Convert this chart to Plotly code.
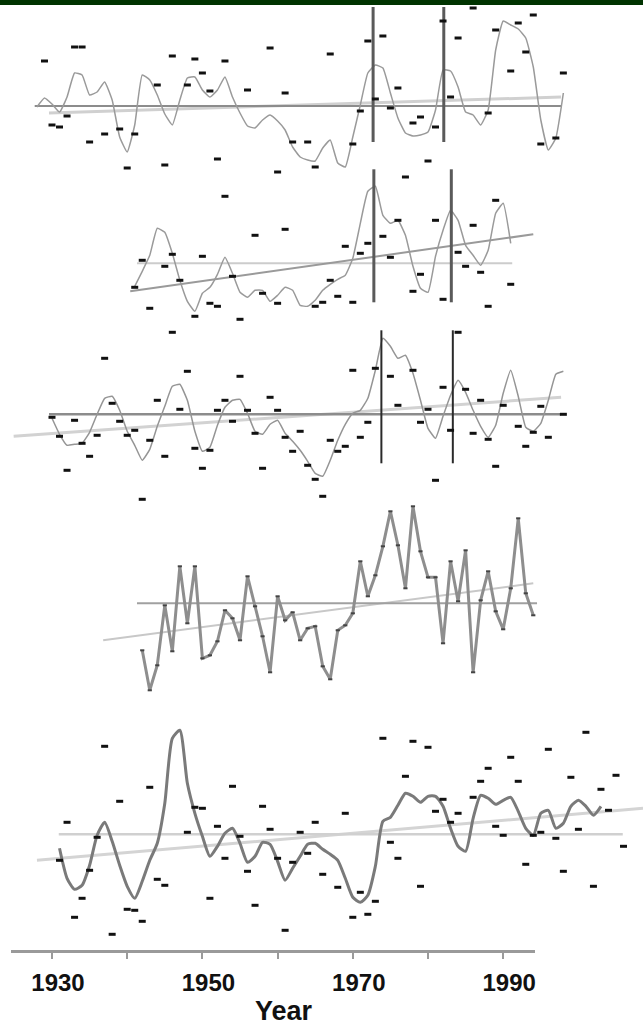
import plotly.graph_objects as go

# ---------------- data (anomaly units, one value per year) ----------------
p1_line_start = 1928
p1_line = [-0.1, 0.8, 0.2, -0.6, 0.9, 3.3, 3.1, 1.1, 1.4, 2.4, 0.6, -3.1, -4.6, -1.9, 3.1, 2.6, 1.1, -0.8,
           -1.9, 0.6, 2.8, 2.9, 1.6, 0.9, 1.6, 2.9, 0.9, -0.7, -2.0, -2.2, -1.4, -0.9, -1.5, -2.4, -4.1, -5.1,
           -5.4, -5.5, -4.2, -3.4, -5.7, -6.1, -3.1, 0.1, 3.3, 4.1, 3.8, 1.3, -1.2, -2.7, -3.0, -2.9, -2.6,
           -0.4, 3.6, 3.5, 1.9, -0.6, -0.9, -1.9, -0.4, 5.6, 8.5, 8.1, 7.7, 6.8, 3.9, -1.4, -4.4, -3.2, 1.3]
p1_dot_years = [1929, 1930, 1931, 1932, 1933, 1934, 1935, 1937, 1939, 1940, 1941, 1944, 1945, 1946, 1948, 1949,
                1950, 1951, 1952, 1953, 1956, 1959, 1960, 1961, 1962, 1964, 1965, 1967, 1970, 1971, 1972, 1973,
                1974, 1975, 1976, 1977, 1978, 1979, 1980, 1981, 1982, 1983, 1984, 1986, 1988, 1989, 1991, 1992,
                1993, 1994, 1995, 1997, 1998]
p1_dot_vals = [4.5, -1.9, -2.1, -1.0, 5.9, 5.9, -3.6, -2.8, -2.3, -6.2, -2.8, 2.1, -5.9, 5.0, 2.1, 4.7,
               3.3, 1.5, -5.3, 4.5, 1.6, 5.8, -6.6, 1.3, -3.6, -3.6, -6.1, 5.2, -3.8, -0.5, 6.5, 0.7,
               7.0, -0.2, 1.8, -7.1, -1.7, -1.1, -5.5, -2.1, 8.5, 0.9, 6.8, 9.8, -0.7, 7.6, 3.5, 8.3,
               5.4, 9.1, -3.8, -3.2, 3.3]
p1_mean_years = [1927.7, 1997.7]
p1_trend_years = [1929.6, 1997.7]
p1_trend_vals = [-0.7, 0.9]
p1_event_years = [1972.7, 1982.1]
p1_event_span = [-3.6, 9.9]

p2_line_start = 1941
p2_line = [-2.3, -0.8, 0.8, 3.5, 3.1, 1.0, -1.7, -3.8, -4.8, -3.0, -2.4, -1.1, 0.6, -1.0, -2.9, -3.4, -2.7,
           -2.7, -3.8, -3.2, -2.4, -2.7, -4.2, -4.3, -3.7, -2.7, -2.1, -1.6, -1.2, 0.5, 4.0, 7.2, 7.7, 4.8,
           4.0, 4.3, 2.8, -0.3, -2.5, -2.9, 0.7, 3.3, 5.3, 4.3, 1.8, 0.8, -0.2, 1.3, 5.0, 6.0, 2.0]
p2_dot_years = [1941, 1942, 1943, 1945, 1946, 1947, 1949, 1950, 1951, 1952, 1953, 1954, 1955, 1957, 1958,
                1960, 1961, 1965, 1966, 1967, 1968, 1969, 1970, 1971, 1972, 1974, 1975, 1976, 1978, 1979,
                1981, 1982, 1984, 1985, 1986, 1987, 1988, 1989, 1991]
p2_dot_vals = [-2.4, 0.3, -4.5, -0.3, 0.9, -1.7, -5.3, 0.7, -4.0, -4.3, 6.7, -1.3, -5.6, 2.8, -3.0,
               -4.0, 3.4, -4.3, -3.9, -1.7, -3.3, 1.7, -3.9, 1.0, 2.0, 2.7, 0.6, 4.3, -2.8, -1.1,
               4.3, -3.6, 1.1, -0.3, 3.8, -0.9, -4.3, 6.3, -2.1]
p2_mean_years = [1941.3, 1991.2]
p2_trend_years = [1940.4, 1994.0]
p2_trend_vals = [-2.8, 2.9]
p2_event_years = [1972.8, 1983.1]
p2_event_span = [-3.9, 9.4]

p3_line_start = 1930
p3_line = [-0.4, -2.0, -3.1, -3.0, -2.9, -1.8, 0.0, 1.6, 1.8, 0.4, -1.7, -3.1, -4.6, -3.5, -1.2, 0.8, 2.8,
           3.0, 1.4, -1.7, -3.7, -3.3, -1.1, 0.7, 1.4, 1.5, 0.1, -1.7, -2.0, -1.0, -0.6, -1.9, -2.7, -3.6,
           -4.7, -5.9, -6.2, -4.6, -2.6, -1.0, 0.1, 0.4, 1.6, 4.4, 7.6, 6.8, 5.6, 5.9, 4.1, 1.4, -1.4, -2.4,
           -0.2, 1.9, 3.4, 2.2, 0.4, -1.2, -2.3, -1.1, 2.1, 4.4, 1.8, -1.3, -1.7, -0.9, 1.4, 4.0, 4.3]
p3_dot_years = [1930, 1931, 1932, 1933, 1934, 1935, 1936, 1937, 1938, 1939, 1940, 1941, 1942, 1943, 1944,
                1945, 1946, 1947, 1948, 1949, 1950, 1951, 1952, 1953, 1954, 1955, 1956, 1957, 1958, 1959,
                1960, 1961, 1962, 1963, 1964, 1965, 1966, 1967, 1968, 1969, 1970, 1971, 1972, 1973, 1975,
                1976, 1978, 1979, 1980, 1981, 1982, 1983, 1984, 1985, 1986, 1987, 1988, 1989, 1990, 1992,
                1993, 1994, 1995, 1996, 1998]
p3_dot_vals = [-0.3, -2.2, -5.6, -0.6, -2.9, -4.2, -2.1, 5.6, 1.1, -0.7, -2.1, -1.6, -8.5, -2.6, 1.4,
               -4.2, 8.2, 0.5, 4.3, -3.4, -5.4, -3.6, 0.4, 1.4, -0.7, 3.8, 0.4, -1.9, -5.4, 1.7,
               0.4, -2.3, -3.7, -1.7, -5.1, -6.5, -8.2, -2.6, -3.7, -3.2, 4.4, -2.3, -0.8, 4.6, 3.8,
               0.9, 4.4, -0.8, 0.5, -6.6, 2.7, -1.6, 8.2, 2.5, -1.9, 1.4, -2.5, -5.2, 0.9, -1.2,
               -3.2, -1.8, 0.8, -2.3, 0.0]
p3_mean_years = [1929.6, 1997.7]
p3_trend_years = [1924.9, 1997.7]
p3_trend_vals = [-2.2, 1.7]
p3_event_years = [1973.8, 1983.3]
p3_event_span = [-4.9, 8.4]

p4_line_start = 1942
p4_line = [-4.7, -8.7, -6.2, -0.2, -4.8, 3.7, -2.0, 3.7, -5.5, -5.2, -3.8, -0.7, -1.5, -3.7, 2.7, -0.3,
           -3.3, -6.9, 0.7, -1.7, -0.9, -3.7, -2.5, -2.3, -6.3, -7.6, -2.7, -2.2, -1.0, 4.2, 0.7, 2.8,
           5.7, 9.2, 5.8, 1.5, 9.7, 5.2, 2.6, 2.6, -4.0, 4.2, 0.2, 5.3, -6.9, 0.3, 3.2, -0.8, -2.6, 1.5,
           8.5, 1.0, -1.2]
p4_mean_years = [1941.3, 1994.5]
p4_trend_years = [1936.8, 1994.0]
p4_trend_vals = [-3.7, 2.0]

p5_line_start = 1931
p5_line = [-1.4, -4.4, -5.5, -5.1, -3.1, -0.1, 1.2, -0.7, -3.1, -5.2, -6.4, -4.7, -2.6, -0.9, 3.1, 9.6,
           10.4, 5.1, 2.1, -0.2, -2.2, -1.2, 0.1, 0.6, -0.9, -2.8, -2.2, -0.8, -1.0, -2.7, -4.6, -3.4,
           -2.2, -1.0, -0.9, -1.5, -2.0, -2.6, -4.4, -6.3, -6.8, -6.1, -3.2, 1.3, 1.7, 2.9, 4.1, 3.8, 3.2,
           3.8, 3.8, 2.8, 0.6, -1.2, -1.7, 1.6, 3.9, 3.6, 3.0, 3.4, 3.7, 2.3, 0.6, -0.1, 2.1, 2.4, 0.6,
           1.1, 2.8, 3.4, 2.8, 1.9, 2.8]
p5_dot_years = [1931, 1932, 1933, 1934, 1935, 1936, 1937, 1938, 1939, 1940, 1941, 1942, 1943, 1944, 1945,
                1948, 1949, 1950, 1951, 1952, 1953, 1954, 1955, 1956, 1957, 1958, 1959, 1960, 1961, 1962,
                1963, 1964, 1965, 1966, 1968, 1969, 1970, 1971, 1972, 1973, 1974, 1975, 1976, 1977, 1978,
                1979, 1980, 1981, 1982, 1983, 1984, 1986, 1987, 1988, 1989, 1990, 1991, 1992, 1993, 1994,
                1995, 1996, 1997, 1998, 1999, 2000, 2001, 2002, 2003, 2004, 2005, 2006]
p5_dot_vals = [-2.6, 1.2, -8.3, -6.4, -3.6, -0.3, 8.8, -10.0, 3.3, -7.5, -7.6, -8.7, 4.7, -4.5, -5.1,
               0.2, 2.7, 2.6, -6.4, 0.8, -2.4, 4.8, -0.2, -3.7, -7.1, 2.8, 0.5, -2.4, -9.6, -2.8,
               0.2, -1.9, 1.2, -4.0, -5.3, 2.1, -8.3, -5.8, -8.0, -6.7, 9.6, -0.8, -2.4, 5.8, 9.3,
               -5.2, 8.7, 2.3, 3.5, 1.2, 2.1, 3.7, 5.3, 6.6, 0.8, -0.1, 7.7, 5.3, -3.0, -0.1,
               0.2, 8.5, -0.4, -3.7, 5.7, 0.5, 10.2, -5.2, 4.5, 2.4, 5.9, -1.2]
p5_mean_years = [1930.9, 2005.9]
p5_trend_years = [1928.0, 2008.6]
p5_trend_vals = [-2.6, 2.6]

tick_years = [1930, 1940, 1950, 1960, 1970, 1980, 1990]
tick_labels = ["1930", "", "1950", "", "1970", "", "1990"]
x_title = "Year"

# ---------------- layout geometry ----------------
W, H = 643, 1028
YEAR0, YEAR0_PX, PX_PER_YEAR = 1930, 52.0, 7.52
PX_PER_UNIT = 10.0
BASELINES = [106.0, 263.3, 414.3, 603.3, 834.3]   # pixel row of each panel's zero line
AXIS_PX = (11.0, 535.0)
AXIS_ROW = 951.0


def px_to_year(px):
    return YEAR0 + (px - YEAR0_PX) / PX_PER_YEAR


def years_from(start, values):
    return list(range(start, start + len(values)))


fig = go.Figure()


def hline(years, yref, color, width):
    fig.add_trace(go.Scatter(x=years, y=[0, 0], mode="lines", yaxis=yref,
                             line=dict(color=color, width=width), hoverinfo="skip"))


def trend(years, vals, yref, color, width):
    fig.add_trace(go.Scatter(x=years, y=vals, mode="lines", yaxis=yref,
                             line=dict(color=color, width=width), hoverinfo="skip"))


def events(years, span, yref, color, width):
    xs, ys = [], []
    for yr in years:
        xs += [yr, yr, None]
        ys += [span[0], span[1], None]
    fig.add_trace(go.Scatter(x=xs, y=ys, mode="lines", yaxis=yref,
                             line=dict(color=color, width=width), hoverinfo="skip"))


def curve(start, vals, yref, color, width, smooth=0.5):
    fig.add_trace(go.Scatter(x=years_from(start, vals), y=vals, mode="lines", yaxis=yref,
                             line=dict(color=color, width=width, shape="spline", smoothing=smooth)))


def dots(years, vals, yref):
    fig.add_trace(go.Scatter(x=years, y=vals, mode="markers", yaxis=yref,
                             marker=dict(symbol="line-ew", size=5,
                                         line=dict(color="#111111", width=3))))


# panel 1
trend(p1_trend_years, p1_trend_vals, "y", "#d0d0d0", 3)
hline(p1_mean_years, "y", "#8c8c8c", 2)
curve(p1_line_start, p1_line, "y", "#9a9a9a", 1.5, 0.4)
events(p1_event_years, p1_event_span, "y", "#5a5a5a", 3)
dots(p1_dot_years, p1_dot_vals, "y")

# panel 2
hline(p2_mean_years, "y2", "#cccccc", 2)
trend(p2_trend_years, p2_trend_vals, "y2", "#9a9a9a", 2)
curve(p2_line_start, p2_line, "y2", "#9a9a9a", 1.5, 0.4)
events(p2_event_years, p2_event_span, "y2", "#5a5a5a", 3)
dots(p2_dot_years, p2_dot_vals, "y2")

# panel 3
trend(p3_trend_years, p3_trend_vals, "y3", "#d2d2d2", 3)
hline(p3_mean_years, "y3", "#8c8c8c", 2.5)
curve(p3_line_start, p3_line, "y3", "#959595", 1.5, 0.4)
events(p3_event_years, p3_event_span, "y3", "#2a2a2a", 2)
dots(p3_dot_years, p3_dot_vals, "y3")

# panel 4
trend(p4_trend_years, p4_trend_vals, "y4", "#c8c8c8", 2)
hline(p4_mean_years, "y4", "#a0a0a0", 2)
fig.add_trace(go.Scatter(x=years_from(p4_line_start, p4_line), y=p4_line, mode="lines+markers",
                         yaxis="y4", line=dict(color="#8e8e8e", width=3),
                         marker=dict(symbol="line-ew", size=3, line=dict(color="#444444", width=2))))

# panel 5
trend(p5_trend_years, p5_trend_vals, "y5", "#d4d4d4", 3)
hline(p5_mean_years, "y5", "#d0d0d0", 2.5)
curve(p5_line_start, p5_line, "y5", "#7a7a7a", 3, 0.6)
dots(p5_dot_years, p5_dot_vals, "y5")

# invisible trace anchoring the visible year axis
fig.add_trace(go.Scatter(x=[None], y=[None], xaxis="x2", yaxis="y", mode="markers"))

layout_y = {}
for i, base in enumerate(BASELINES):
    key = "yaxis" if i == 0 else f"yaxis{i + 1}"
    ax = dict(range=[-(H - base) / PX_PER_UNIT, base / PX_PER_UNIT], visible=False,
              domain=[0, 1], fixedrange=True)
    if i > 0:
        ax["overlaying"] = "y"
    layout_y[key] = ax

fig.update_layout(
    width=W, height=H,
    margin=dict(l=0, r=0, t=0, b=0, pad=0),
    paper_bgcolor="white", plot_bgcolor="rgba(0,0,0,0)",
    showlegend=False,
    xaxis=dict(range=[px_to_year(0), px_to_year(W)], visible=False, domain=[0, 1]),
    xaxis2=dict(domain=[AXIS_PX[0] / W, AXIS_PX[1] / W],
                range=[px_to_year(AXIS_PX[0]), px_to_year(AXIS_PX[1])],
                anchor="free", position=(H - AXIS_ROW) / H,
                showgrid=False, zeroline=False,
                showline=True, linecolor="#9a9a9a", linewidth=2.5,
                ticks="outside", ticklen=6, tickwidth=1.5, tickcolor="#9a9a9a",
                tickvals=tick_years, ticktext=tick_labels,
                ticklabelshift=6, ticklabelstandoff=3,
                tickfont=dict(family="Liberation Sans", size=24, color="#111111", weight="bold")),
    **layout_y,
    shapes=[dict(type="rect", xref="paper", yref="paper", x0=0, x1=1, y0=1 - 5 / H, y1=1,
                 fillcolor="#003300", line=dict(width=0), layer="above")],
    annotations=[dict(text=x_title, xref="paper", yref="paper", x=284 / W, y=(H - 1011) / H,
                      showarrow=False, xanchor="center", yanchor="middle", borderpad=0,
                      font=dict(family="Liberation Sans", size=27, color="#111111", weight="bold"))],
)

fig.write_html("out.html", config={"displayModeBar": False},
               post_script="document.body.style.margin='0px';document.body.style.overflow='hidden';")
